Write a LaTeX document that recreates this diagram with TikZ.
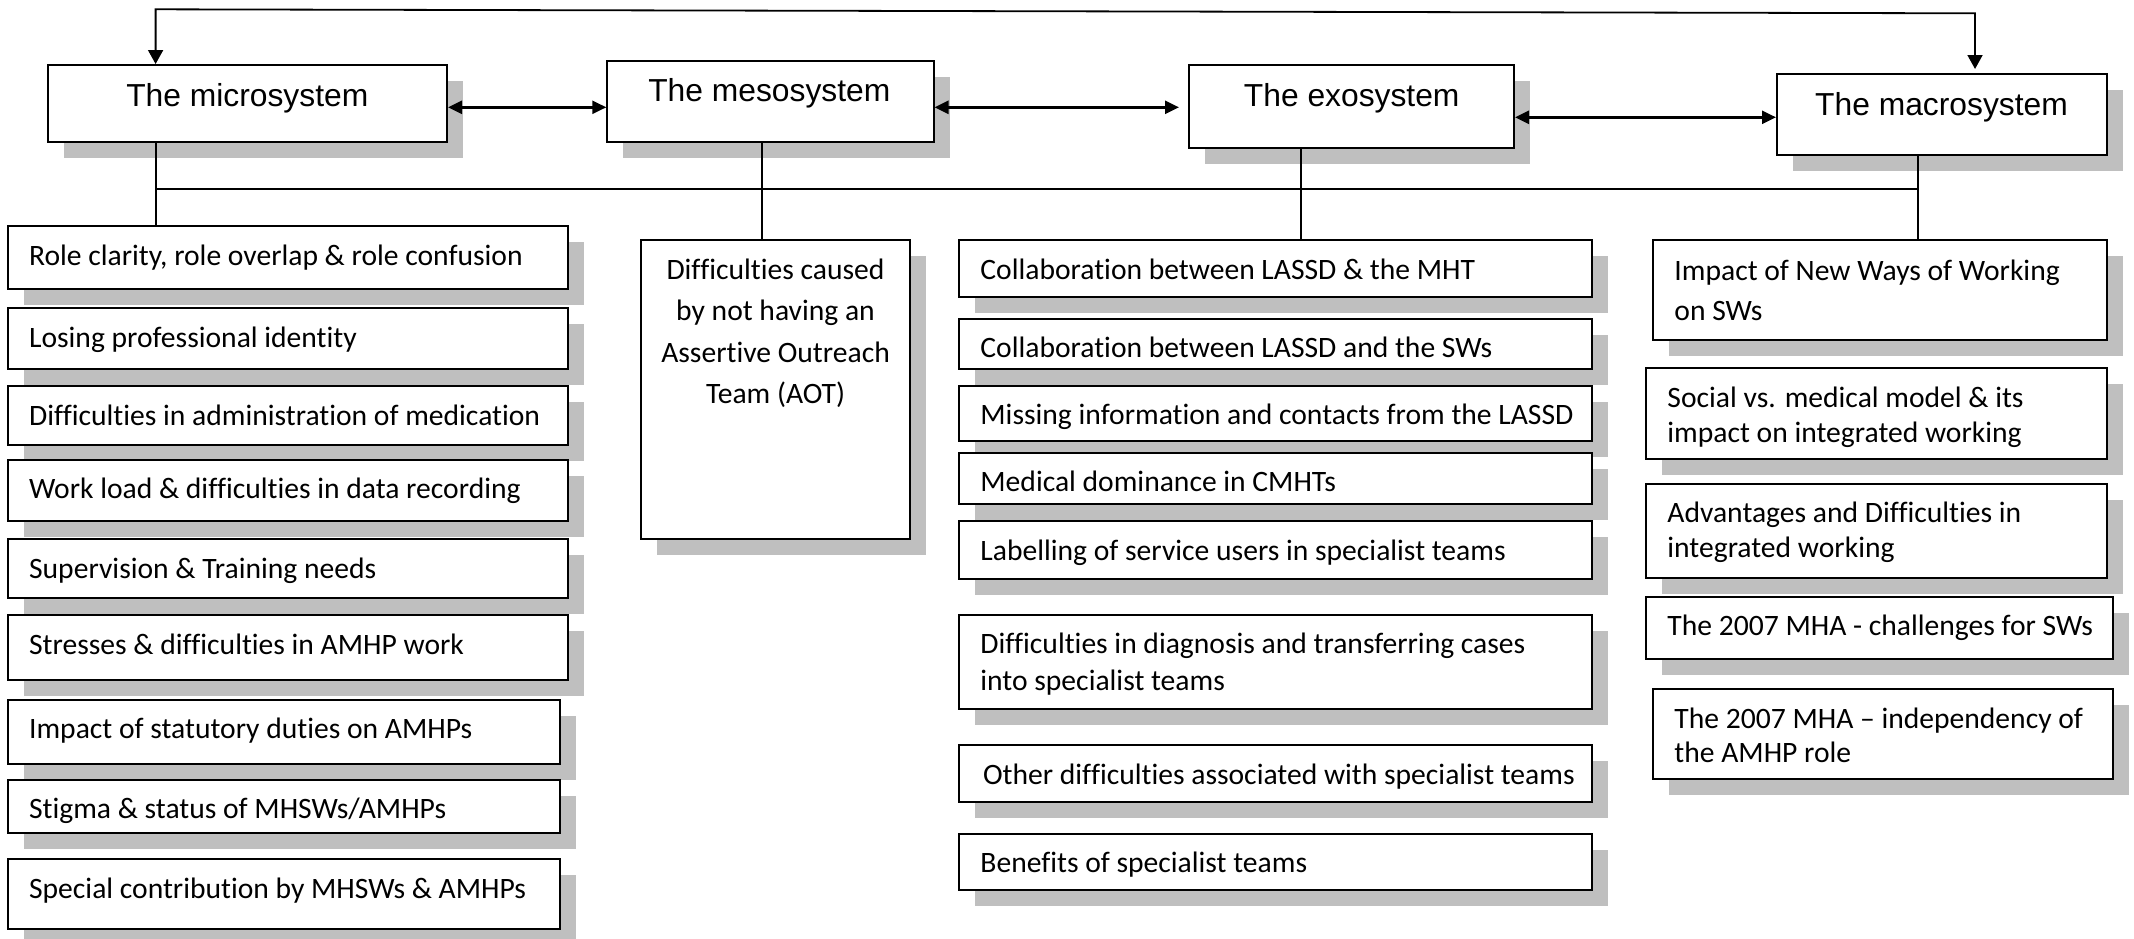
\documentclass[tikz,border=0pt]{standalone}
\usepackage{fontspec}
\setmainfont{Carlito}[Ligatures=NoCommon]
\newfontfamily\hdrfont{Liberation Sans}
\usetikzlibrary{arrows.meta,shadows,fit}
\definecolor{shadowgray}{RGB}{191,191,191}
\newcommand\mlines[2][l]{\begin{tabular}[t]{@{}#1@{}}#2\end{tabular}}
\newcommand\ibox[5]{\node[box, fit={(#2,#3) (#4,#5)}] (#1) {};}
\begin{document}
\begin{tikzpicture}[x=0.5pt,y=-0.5pt,
  box/.style={draw, line width=1pt, fill=white, inner sep=0pt,
    drop shadow={shadow xshift=8pt, shadow yshift=-8pt, fill=shadowgray, opacity=1}},
  conn/.style={line width=0.9pt},
  harrow/.style={line width=1.2pt, {Triangle[length=7pt,width=6.5pt]}-{Triangle[length=7pt,width=6.5pt]}},
  varrow/.style={line width=0.9pt, {Triangle[length=7pt,width=7.5pt]}-{Triangle[length=7pt,width=7.5pt]}},
  hdr/.style={font=\hdrfont\fontsize{15.9}{19}\selectfont, inner sep=0pt, anchor=base},
  itxt/.style={font=\fontsize{14.8}{20}\selectfont, inner sep=0pt, anchor=base west},
]
\useasboundingbox (0,0) rectangle (2134,938);
\renewcommand\arraystretch{1}

% header boxes
\ibox{mic}{48}{65}{447}{141.7}
\ibox{mes}{607.3}{61}{933.5}{141.7}
\ibox{exo}{1189}{65}{1514}{148}
\ibox{mac}{1777}{74}{2107}{155}
\node[hdr] (micT) at (247.3,106) {The microsystem};
\node[hdr] (mesT) at (769.3,101.7) {The mesosystem};
\node[hdr] (exoT) at (1351.7,106) {The exosystem};
\node[hdr] (macT) at (1941.5,115) {The macrosystem};

% microsystem items
\ibox{m1}{7.7}{226}{567.6}{288.7}
\ibox{m2}{7.7}{307.6}{567.6}{368.5}
\ibox{m3}{7.7}{385.5}{567.6}{445.4}
\ibox{m4}{7.7}{459.6}{567.6}{520.9}
\ibox{m5}{7.7}{538.8}{567.6}{597.8}
\ibox{m6}{7.7}{615.3}{567.6}{680.4}
\ibox{m7}{7.7}{700.2}{560}{764}
\ibox{m8}{7.7}{779.5}{560}{833.3}
\ibox{m9}{7.7}{859.3}{560}{929.1}
\node[itxt] (m1T) at (28.7,265.2) {Role clarity, role overlap \& role confusion};
\node[itxt] (m2T) at (28.7,347.8) {Losing professional identity};
\node[itxt] (m3T) at (28.7,425.2) {Difficulties in administration of medication};
\node[itxt] (m4T) at (28.7,498.8) {Work load \& difficulties in data recording};
\node[itxt] (m5T) at (28.7,578.5) {Supervision \& Training needs};
\node[itxt] (m6T) at (28.7,654) {Stresses \& difficulties in AMHP work};
\node[itxt] (m7T) at (28.7,738) {Impact of statutory duties on AMHPs};
\node[itxt] (m8T) at (28.7,818.3) {Stigma \& status of MHSWs/AMHPs};
\node[itxt] (m9T) at (28.7,898.5) {Special contribution by MHSWs \& AMHPs};

% mesosystem item
\ibox{s1}{641}{240}{910}{538.8}
\node[itxt, anchor=base] (s1T) at (775.5,279.3)
  {\fontsize{14.8}{20.75}\selectfont\mlines[c]{Difficulties caused\\by not having an\\Assertive Outreach\\Team (AOT)}};

% exosystem items
\ibox{e1}{959}{240}{1592}{296.7}
\ibox{e2}{959}{319.4}{1592}{368.5}
\ibox{e3}{959}{385.5}{1592}{440.7}
\ibox{e4}{959}{452.5}{1592}{504.4}
\ibox{e5}{959}{521}{1592}{579}
\ibox{e6}{959}{615.3}{1592}{708.7}
\ibox{e7}{959}{745}{1592}{801.7}
\ibox{e8}{959}{833.8}{1592}{890}
\node[itxt] (e1T) at (980,279.3) {Collaboration between LASSD \& the MHT};
\node[itxt] (e2T) at (980,357.2) {Collaboration between LASSD and the SWs};
\node[itxt] (e3T) at (980,424.2) {Missing information and contacts from the LASSD};
\node[itxt] (e4T) at (980,491.2) {Medical dominance in CMHTs};
\node[itxt] (e5T) at (980,560.1) {Labelling of service users in specialist teams};
\node[itxt] (e6T) at (980,653.1) {\fontsize{14.8}{18.5}\selectfont\mlines{Difficulties in diagnosis and transferring cases\\into specialist teams}};
\node[itxt] (e7T) at (982.7,784.3) {Other difficulties associated with specialist teams};
\node[itxt] (e8T) at (980,872.5) {Benefits of specialist teams};

% macrosystem items
\ibox{a1}{1652.8}{240.2}{2106.5}{339.7}
\ibox{a2}{1646}{368.4}{2106.5}{459}
\ibox{a3}{1646}{484}{2106.5}{578.1}
\ibox{a4}{1646}{596.9}{2113.3}{659.2}
\ibox{a5}{1652.8}{689}{2113.3}{778.6}
\node[itxt] (a1T) at (1674,280.3) {\fontsize{14.8}{20}\selectfont\mlines{Impact of New Ways of Working\\on SWs}};
\node[itxt] (a2T) at (1667,407.5) {\fontsize{14.8}{17.5}\selectfont\mlines{Social vs. medical model \& its\\impact on integrated working}};
\node[itxt] (a3T) at (1667,522.5) {\fontsize{14.8}{17.5}\selectfont\mlines{Advantages and Difficulties in\\integrated working}};
\node[itxt] (a4T) at (1667,635.5) {The 2007 MHA - challenges for SWs};
\node[itxt] (a5T) at (1674,728.1) {\fontsize{14.8}{17.2}\selectfont\mlines{The 2007 MHA – independency of\\the AMHP role}};

% connectors
\coordinate (tl) at (155.6,9.3);
\coordinate (tr) at (1975,13.3);
\coordinate (hy1) at (0,107.3);
\coordinate (hy2) at (0,117.3);
\coordinate (bus) at (0,189.3);
\coordinate (vm) at (761.6,0);
\coordinate (ve) at (1300.8,0);
\coordinate (va) at (1918,0);

\draw[varrow, shorten >=2pt] (mic.north -| tl) -- (tl) -- (tr) -- (mac.north -| tr);
\draw[harrow] (mic.east |- hy1) -- (mes.west |- hy1);
\draw[harrow, shorten >=4.5pt] (mes.east |- hy1) -- (exo.west |- hy1);
\draw[harrow] (exo.east |- hy2) -- (mac.west |- hy2);

\draw[conn] (mic.south -| tl) -- (m1.north -| tl);
\draw[conn] (tl |- bus) -- (va |- bus);
\draw[conn] (mes.south -| vm) -- (s1.north -| vm);
\draw[conn] (exo.south -| ve) -- (e1.north -| ve);
\draw[conn] (mac.south -| va) -- (a1.north -| va);
\end{tikzpicture}
\end{document}
